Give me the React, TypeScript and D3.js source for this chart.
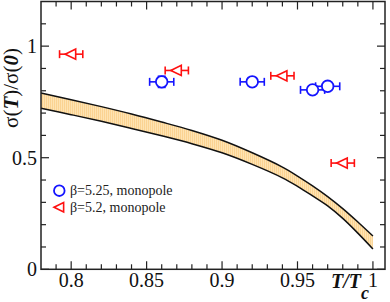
import React from "react";
import * as d3 from "d3";

const bandT = [0.78, 0.8, 0.82, 0.84, 0.86, 0.88, 0.9, 0.92, 0.94, 0.95, 0.96, 0.97, 0.98, 0.99, 1.0];
const bandUpper = [0.79, 0.76, 0.729, 0.696, 0.66, 0.622, 0.578, 0.522, 0.458, 0.418, 0.374, 0.326, 0.272, 0.212, 0.149];
const bandLower = [0.722, 0.693, 0.663, 0.631, 0.598, 0.563, 0.522, 0.47, 0.41, 0.372, 0.329, 0.284, 0.228, 0.162, 0.091];

const blueT = [0.86, 0.92, 0.96, 0.97];
const blueV = [0.84, 0.84, 0.804, 0.82];
const blueTErr = [0.008, 0.008, 0.008, 0.008];
const blueVErr = [0.025, 0, 0, 0];

const redT = [0.8, 0.87, 0.94, 0.98];
const redV = [0.964, 0.891, 0.867, 0.476];
const redTErr = [0.0077, 0.0077, 0.0077, 0.0077];

const xMajor = [0.8, 0.85, 0.9, 0.95, 1.0];
const xMajorLabels = ["0.8", "0.85", "0.9", "0.95", "1"];
const yMajor = [0, 0.5, 1];
const yMajorLabels = ["0", "0.5", "1"];

const legendLabels = ["β=5.25, monopole", "β=5.2, monopole"];

const W = 390;
const H = 302;
const L = 41;
const R = 385;
const T = 1.5;
const B = 269.3;
const FONT = "Liberation Serif, Times New Roman, Times, serif";
const BLUE = "#1414ff";
const RED = "#ff1010";

export default function App() {
  const x = d3.scaleLinear().domain([0.78, 1.008]).range([L, R]);
  const y = d3.scaleLinear().domain([0, 1.2]).range([B, T]);

  const bandData = bandT.map((t, i) => ({ t, u: bandUpper[i], l: bandLower[i] }));
  const area = d3
    .area<any>()
    .x((d) => x(d.t))
    .y0((d) => y(d.l))
    .y1((d) => y(d.u))
    .curve(d3.curveCatmullRom);
  const lineU = d3.line<any>().x((d) => x(d.t)).y((d) => y(d.u)).curve(d3.curveCatmullRom);
  const lineL = d3.line<any>().x((d) => x(d.t)).y((d) => y(d.l)).curve(d3.curveCatmullRom);

  const xMinor = d3.range(79, 101).map((v) => v / 100).filter((v) => !xMajor.some((m) => Math.abs(m - v) < 1e-6));
  const yMinor = d3.range(1, 12).map((v) => v / 10).filter((v) => !yMajor.some((m) => Math.abs(m - v) < 1e-6));

  const axisColor = "#222";
  const majorLen = 8;
  const minorLen = 5;

  const tri = (cx: number, cy: number, s: number) =>
    `M${cx - s},${cy} L${cx + s * 0.75},${cy - s * 0.85} L${cx + s * 0.75},${cy + s * 0.85} Z`;

  const errX = (t: number, v: number, e: number, color: string, key: string) => (
    <g key={key} stroke={color} strokeWidth={1.6} fill="none">
      <line x1={x(t - e)} x2={x(t + e)} y1={y(v)} y2={y(v)} />
      <line x1={x(t - e)} x2={x(t - e)} y1={y(v) - 4} y2={y(v) + 4} />
      <line x1={x(t + e)} x2={x(t + e)} y1={y(v) - 4} y2={y(v) + 4} />
    </g>
  );
  const errY = (t: number, v: number, e: number, color: string, key: string) =>
    e > 0 ? (
      <g key={key} stroke={color} strokeWidth={1.6} fill="none">
        <line x1={x(t)} x2={x(t)} y1={y(v - e)} y2={y(v + e)} />
        <line x1={x(t) - 4} x2={x(t) + 4} y1={y(v - e)} y2={y(v - e)} />
        <line x1={x(t) - 4} x2={x(t) + 4} y1={y(v + e)} y2={y(v + e)} />
      </g>
    ) : null;

  const txt = { fontFamily: FONT };

  return (
    <svg
      width={W}
      height={H}
      style={{ position: "absolute", left: 0, top: 0, background: "#fff", fontFamily: FONT }}
    >
      <defs>
        <pattern id="hatch" width={2} height={4} patternUnits="userSpaceOnUse">
          <rect width={2} height={4} fill="#fee3b2" />
          <rect width={1} height={4} fill="#fbd392" />
        </pattern>
      </defs>
      <rect x={0} y={0} width={W} height={H} fill="#fff" />

      {/* band */}
      <path d={area(bandData) || ""} fill="url(#hatch)" stroke="none" />
      <path d={lineU(bandData) || ""} fill="none" stroke="#111" strokeWidth={1.5} />
      <path d={lineL(bandData) || ""} fill="none" stroke="#111" strokeWidth={1.5} />

      {/* red data */}
      {redT.map((t, i) => errX(t, redV[i], redTErr[i], RED, "re" + i))}
      {redT.map((t, i) => (
        <path key={"rm" + i} d={tri(x(t), y(redV[i]), 6)} fill="#fff" stroke={RED} strokeWidth={1.6} />
      ))}

      {/* blue data */}
      {blueT.map((t, i) => errX(t, blueV[i], blueTErr[i], BLUE, "be" + i))}
      {blueT.map((t, i) => errY(t, blueV[i], blueVErr[i], BLUE, "bey" + i))}
      {blueT.map((t, i) => (
        <circle key={"bm" + i} cx={x(t)} cy={y(blueV[i])} r={5.8} fill="#fff" stroke={BLUE} strokeWidth={1.8} />
      ))}

      {/* frame */}
      <rect x={L} y={T} width={R - L} height={B - T} fill="none" stroke={axisColor} strokeWidth={1.5} />

      {/* ticks */}
      <g stroke={axisColor} strokeWidth={1.2}>
        {xMajor.map((v, i) => (
          <g key={"xM" + i}>
            <line x1={x(v)} x2={x(v)} y1={B} y2={B - majorLen} />
            <line x1={x(v)} x2={x(v)} y1={T} y2={T + majorLen} />
          </g>
        ))}
        {xMinor.map((v, i) => (
          <g key={"xm" + i}>
            <line x1={x(v)} x2={x(v)} y1={B} y2={B - minorLen} />
            <line x1={x(v)} x2={x(v)} y1={T} y2={T + minorLen} />
          </g>
        ))}
        {yMajor.map((v, i) => (
          <g key={"yM" + i}>
            <line x1={L} x2={L + majorLen} y1={y(v)} y2={y(v)} />
            <line x1={R} x2={R - majorLen} y1={y(v)} y2={y(v)} />
          </g>
        ))}
        {yMinor.map((v, i) => (
          <g key={"ym" + i}>
            <line x1={L} x2={L + minorLen} y1={y(v)} y2={y(v)} />
            <line x1={R} x2={R - minorLen} y1={y(v)} y2={y(v)} />
          </g>
        ))}
      </g>

      {/* tick labels */}
      <g fontSize={20} fill="#111" style={txt}>
        {xMajor.map((v, i) => (
          <text key={"xl" + i} x={x(v)} y={287} textAnchor="middle" style={txt}>
            {xMajorLabels[i]}
          </text>
        ))}
        {yMajor.map((v, i) => (
          <text key={"yl" + i} x={37} y={y(v) + 7} textAnchor="end" style={txt}>
            {yMajorLabels[i]}
          </text>
        ))}
      </g>

      {/* axis titles */}
      <text x={331} y={288} fontSize={20} fontWeight="bold" fontStyle="italic" fill="#111" style={txt}>
        T/T
        <tspan fontSize={18} dy={11}>c</tspan>
      </text>
      <text
        transform="translate(18,88) rotate(-90)"
        textAnchor="middle"
        fontSize={21}
        fill="#111"
        style={txt}
      >
        σ(<tspan fontWeight="bold" fontStyle="italic">T</tspan>)/σ(<tspan fontWeight="bold" fontStyle="italic">0</tspan>)
      </text>

      {/* legend */}
      <circle cx={59.3} cy={190.7} r={5.3} fill="#fff" stroke={BLUE} strokeWidth={1.8} />
      <text x={70} y={195} fontSize={14} fill="#222" style={txt}>
        {legendLabels[0]}
      </text>
      <path d={tri(59.5, 207.3, 5.5)} fill="#fff" stroke={RED} strokeWidth={1.6} />
      <text x={70} y={211.5} fontSize={14} fill="#222" style={txt}>
        {legendLabels[1]}
      </text>
    </svg>
  );
}
